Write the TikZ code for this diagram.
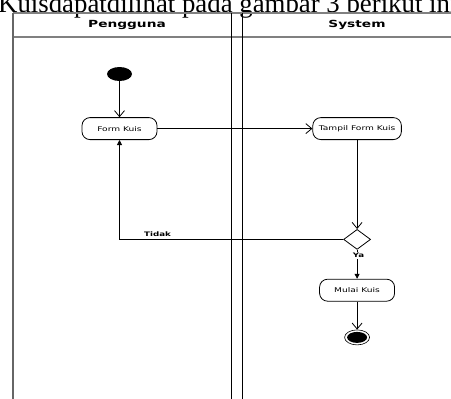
\documentclass[tikz,border=0pt]{standalone}
\usepackage{fontspec}
\usetikzlibrary{shapes.geometric, arrows.meta, positioning}
\newfontfamily\lanefont[FakeStretch=1.4]{DejaVu Sans}
\newfontfamily\capfont{Liberation Serif}
\tikzstyle{activity} = [rectangle, rounded corners=8pt, minimum width=75pt, minimum height=22pt, inner xsep=6pt, text centered, draw=black, line width=0.8pt, font=\lanefont\fontsize{6.5}{7}\selectfont]
\tikzstyle{decision} = [diamond, draw=black, line width=0.8pt, minimum width=27pt, minimum height=20pt, inner sep=0pt]
\tikzstyle{initial} = [ellipse, fill=black, minimum width=25pt, minimum height=14pt, inner sep=0pt]
\tikzstyle{final} = [ellipse, draw=black, line width=0.6pt, minimum width=25pt, minimum height=15pt, inner sep=0pt]
\tikzstyle{lanetitle} = [font=\lanefont\bfseries\fontsize{9.8}{10}\selectfont]
\tikzstyle{guard} = [font=\lanefont\bfseries\fontsize{6.2}{7}\selectfont, inner sep=1pt]
\tikzstyle{arrow} = [line width=0.8pt, -{Straight Barb[length=6pt,width=10pt]}]
\tikzstyle{solidarrow} = [line width=0.8pt, -{Triangle[length=5pt,width=5pt]}]

\begin{document}
\begin{tikzpicture}[x=1pt, y=-1pt]
    \useasboundingbox (0,0) rectangle (451,399);
    %caption text above the figure
    \node (caption) [anchor=base west, inner sep=0pt, font=\capfont\fontsize{26.8}{30}\selectfont] at (-2,12.5) {Kuisdapatdilihat pada gambar 3 berikut ini};

    %swimlanes
    \draw [gray, line width=1.2pt] (13,13) -- (451,13);
    \draw [gray, line width=1.2pt] (13,37) -- (451,37);
    \draw [gray!80!black, line width=1.6pt] (13,13) -- (13,399);
    \draw [line width=0.8pt] (231,13) -- (231,399);
    \draw [line width=0.8pt] (242,13) -- (242,399);
    \node (lane1) [lanetitle] at (127,24.5) {Pengguna};
    \node (lane2) [lanetitle] at (357,24.5) {System};

    %nodes
    \node (start) [initial] at (119.5,74) {};
    \node (form) [activity, below=36pt of start] {Form Kuis};
    \node (tampil) [activity, right=155pt of form] {Tampil Form Kuis};
    \node (cek) [decision, below=89pt of tampil] {};
    \node (mulai) [activity, below=29pt of cek] {Mulai Kuis};
    \node (stop) [final, below=28pt of mulai] {};
    \fill (stop.center) ellipse (10pt and 5.5pt);

    %arrows
    \draw [arrow] (start) -- (form);
    \draw [arrow] (form) -- (tampil);
    \draw [arrow] (tampil) -- (cek);
    \draw [solidarrow] (cek.west) -| node [guard, pos=0.415, above=1pt] {Tidak} (form.south);
    \draw [solidarrow] (cek.south) -- node [guard, pos=0.2, fill=white, xshift=1.5pt] {Ya} (mulai.north);
    \draw [arrow] (mulai) -- (stop);

\end{tikzpicture}
\end{document}
